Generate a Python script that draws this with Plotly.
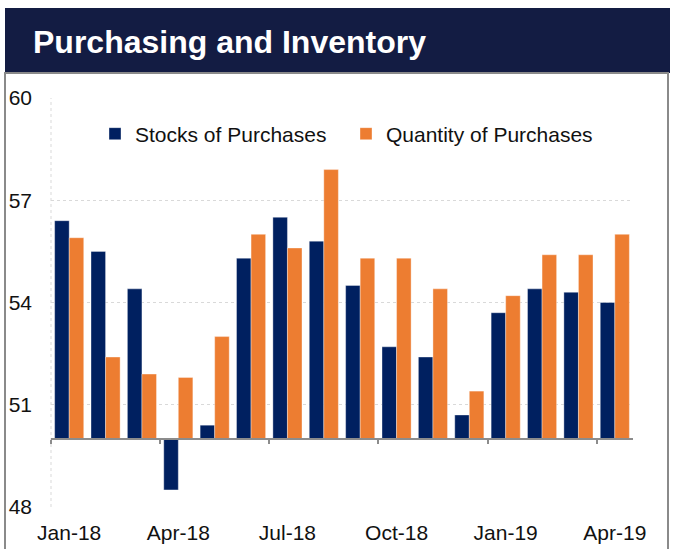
import plotly.graph_objects as go

months = ["Jan-18", "Feb-18", "Mar-18", "Apr-18", "May-18", "Jun-18", "Jul-18", "Aug-18",
          "Sep-18", "Oct-18", "Nov-18", "Dec-18", "Jan-19", "Feb-19", "Mar-19", "Apr-19"]
stocks = [56.4, 55.5, 54.4, 48.5, 50.4, 55.3, 56.5, 55.8, 54.5, 52.7, 52.4, 50.7, 53.7, 54.4, 54.3, 54.0]
quantity = [55.9, 52.4, 51.9, 51.8, 53.0, 56.0, 55.6, 57.9, 55.3, 55.3, 54.4, 51.4, 54.2, 55.4, 55.4, 56.0]
tick_labels = ["Jan-18", "Apr-18", "Jul-18", "Oct-18", "Jan-19", "Apr-19"]
y_ticks = [48, 51, 54, 57, 60]
BASE = 50
Y_MIN, Y_MAX = 48, 60

FONT = "Liberation Sans, Arial, sans-serif"
NAVY = "#002060"
ORANGE = "#ED7D31"
TXT = "#111111"

fig = go.Figure()
fig.add_trace(go.Bar(x=months, y=[v - BASE for v in stocks], base=BASE, name="Stocks of Purchases",
                     marker=dict(color=NAVY, line=dict(color="rgba(255,255,255,0.6)", width=0.6))))
fig.add_trace(go.Bar(x=months, y=[v - BASE for v in quantity], base=BASE, name="Quantity of Purchases",
                     marker=dict(color=ORANGE, line=dict(color="rgba(255,255,255,0.6)", width=0.6))))
# empty helper trace so the baseline axis (x2) is rendered
fig.add_trace(go.Scatter(x=[], y=[], xaxis="x2", showlegend=False, hoverinfo="skip"))

n = len(months)
W, H = 678, 549
L, R, T, B = 51, 45, 98, 42
pw = W - L - R
ph = H - T - B

def px_x(px):
    return (px - L) / pw

def px_y(py):
    return (H - B - py) / ph

shapes = [
    dict(type="rect", xref="paper", yref="paper", x0=px_x(5), x1=px_x(670), y0=px_y(73), y1=px_y(8),
         fillcolor="#131C43", line=dict(width=0), layer="below"),
    dict(type="rect", xref="paper", yref="paper", x0=px_x(5), x1=px_x(668), y0=px_y(560), y1=px_y(73),
         fillcolor="rgba(0,0,0,0)", line=dict(color="#8a8a8a", width=2), layer="below"),
    dict(type="line", xref="paper", yref="paper", x0=0, x1=0, y0=0, y1=1,
         line=dict(color="#d9d9d9", width=1, dash="dot"), layer="below"),
]

fig.update_layout(
    width=W, height=H,
    margin=dict(l=L, r=R, t=T, b=B, autoexpand=False),
    paper_bgcolor="white", plot_bgcolor="white",
    barmode="group", bargap=0.2, bargroupgap=0,
    font=dict(family=FONT, size=21, color=TXT),
    title=dict(text="<b>Purchasing and Inventory</b>", x=33 / W, xanchor="left", xref="container",
               y=1 - 42 / H, yanchor="middle", yref="container",
               font=dict(family=FONT, size=32, color="white")),
    showlegend=True,
    legend=dict(orientation="h", x=px_x(95), xanchor="left", y=px_y(134), yanchor="middle",
                font=dict(family=FONT, size=21, color=TXT), bgcolor="rgba(0,0,0,0)",
                entrywidth=206, entrywidthmode="pixels", traceorder="normal"),
    xaxis=dict(type="category", tickmode="array", tickvals=tick_labels, ticktext=tick_labels,
               showline=False, ticks="", showgrid=False, zeroline=False, ticklabelstandoff=11,
               automargin=False, tickfont=dict(family=FONT, size=21, color=TXT)),
    xaxis2=dict(overlaying="x", anchor="free", position=(BASE - Y_MIN) / (Y_MAX - Y_MIN),
                range=[-0.5, n - 0.5], tickmode="array", tickvals=[i - 0.5 for i in range(0, n, 3)],
                showticklabels=False, showline=True, linecolor="#8c8c8c", linewidth=2,
                ticks="outside", ticklen=4, tickwidth=2, tickcolor="#8c8c8c",
                showgrid=False, zeroline=False, automargin=False),
    yaxis=dict(range=[Y_MIN, Y_MAX], tickmode="array", tickvals=y_ticks, showgrid=True,
               gridcolor="#d9d9d9", griddash="dot", gridwidth=1, zeroline=False, showline=False,
               ticks="", ticklabelstandoff=18, automargin=False,
               tickfont=dict(family=FONT, size=21, color=TXT)),
    shapes=shapes,
)

fig.write_html("out.html", config={"displayModeBar": False},
               post_script="document.body.style.margin='0';document.body.style.overflow='hidden';")
